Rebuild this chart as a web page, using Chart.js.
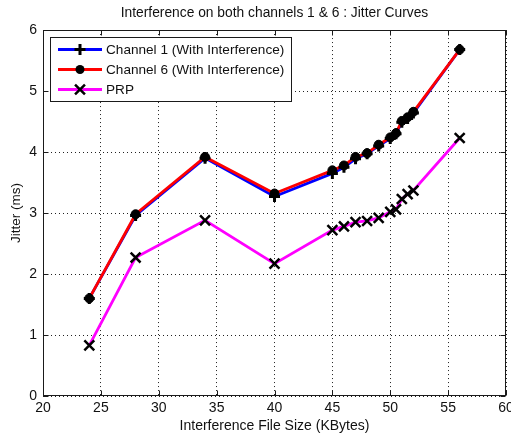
<!DOCTYPE html>
<html><head><meta charset="utf-8">
<script src="https://cdn.jsdelivr.net/npm/chart.js@4"></script>
<style>html,body{margin:0;padding:0;background:#fff;}</style>
</head><body>
<canvas id="c" width="511" height="438"></canvas>
<script>
const chartTitle = 'Interference on both channels 1 & 6 : Jitter Curves';
const xAxisTitle = 'Interference File Size (KBytes)';
const yAxisTitle = 'Jitter (ms)';
const seriesLabels = ['Channel 1 (With Interference)', 'Channel 6 (With Interference)', 'PRP'];
const fileSizes = [24, 28, 34, 40, 45, 46, 47, 48, 49, 50, 50.5, 51, 51.5, 52, 56];
const channel1 = [1.60, 2.96, 3.90, 3.27, 3.65, 3.75, 3.89, 3.97, 4.10, 4.22, 4.30, 4.49, 4.55, 4.64, 5.68];
const channel6 = [1.60, 2.98, 3.92, 3.32, 3.70, 3.78, 3.92, 3.98, 4.12, 4.24, 4.31, 4.51, 4.57, 4.66, 5.68];
const prp      = [0.83, 2.27, 2.88, 2.17, 2.72, 2.78, 2.85, 2.87, 2.92, 3.02, 3.06, 3.23, 3.31, 3.37, 4.23];
const xTickRange = [20, 60, 5];
const yTickRange = [0, 6, 1];

const FONT = '"Liberation Sans", Arial, Helvetica, sans-serif';
const pts = arr => fileSizes.map((x, i) => ({x: x, y: arr[i]}));
const lineColors = ['#0000ff', '#ff0000', '#ff00ff'];
const markerStyles = ['cross', 'circle', 'crossRot'];
const markerRadius = [5.5, 4.5, 7];
const markerWidth = [3, 1, 2.5];
const seriesData = [channel1, channel6, prp];

const datasets = [];
[2, 0, 1].forEach((k, idx) => {
  datasets.push({
    label: seriesLabels[k], data: pts(seriesData[k]), showLine: true,
    borderColor: lineColors[k], borderWidth: 2.8, pointRadius: 0, pointHoverRadius: 0,
    fill: false, tension: 0, order: 10 - idx
  });
});
[2, 0, 1].forEach((k, idx) => {
  datasets.push({
    label: seriesLabels[k] + ' markers', data: pts(seriesData[k]), showLine: false,
    pointStyle: markerStyles[k], pointRadius: markerRadius[k], pointHoverRadius: markerRadius[k],
    pointBorderWidth: markerWidth[k], pointBackgroundColor: '#000', pointBorderColor: '#000',
    order: 3 - idx
  });
});

function drawMarker(ctx, style, x, y, r, w) {
  ctx.save();
  ctx.strokeStyle = '#000'; ctx.fillStyle = '#000'; ctx.lineWidth = w;
  ctx.beginPath();
  if (style === 'cross') {
    ctx.moveTo(x - r, y); ctx.lineTo(x + r, y);
    ctx.moveTo(x, y - r); ctx.lineTo(x, y + r);
    ctx.stroke();
  } else if (style === 'crossRot') {
    const o = r * Math.SQRT1_2;
    ctx.moveTo(x - o, y - o); ctx.lineTo(x + o, y + o);
    ctx.moveTo(x - o, y + o); ctx.lineTo(x + o, y - o);
    ctx.stroke();
  } else {
    ctx.arc(x, y, r, 0, Math.PI * 2); ctx.fill();
  }
  ctx.restore();
}

const framePlugin = {
  id: 'frame',
  afterDatasetsDraw(chart) {
    const {ctx, chartArea: a, scales} = chart;
    const L = Math.round(a.left) + 0.5, R = Math.round(a.right) - 0.5;
    const T = Math.round(a.top) + 0.5, B = Math.round(a.bottom) - 0.5;
    ctx.save();
    ctx.setLineDash([]);
    ctx.strokeStyle = '#1a1a1a'; ctx.lineWidth = 1;
    ctx.strokeRect(L, T, R - L, B - T);
    const tl = 5;
    ctx.beginPath();
    scales.x.ticks.forEach(t => {
      const px = Math.round(scales.x.getPixelForValue(t.value)) + 0.5;
      ctx.moveTo(px, B); ctx.lineTo(px, B - tl);
      ctx.moveTo(px, T); ctx.lineTo(px, T + tl);
    });
    scales.y.ticks.forEach(t => {
      const py = Math.round(scales.y.getPixelForValue(t.value)) + 0.5;
      ctx.moveTo(L, py); ctx.lineTo(L + tl, py);
      ctx.moveTo(R, py); ctx.lineTo(R - tl, py);
    });
    ctx.stroke();
    ctx.restore();
  },
  afterDraw(chart) {
    const ctx = chart.ctx;
    const bx = 50.5, by = 37.5, bw = 241, bh = 64;
    ctx.save();
    ctx.fillStyle = '#fff';
    ctx.fillRect(bx, by, bw, bh);
    ctx.strokeStyle = '#1a1a1a'; ctx.lineWidth = 1; ctx.setLineDash([]);
    ctx.strokeRect(bx, by, bw, bh);
    const rows = [49.5, 69.5, 89.5];
    ctx.font = '13.6px ' + FONT;
    ctx.textBaseline = 'middle'; ctx.textAlign = 'left';
    for (let k = 0; k < 3; k++) {
      const y = rows[k];
      ctx.strokeStyle = lineColors[k]; ctx.lineWidth = 2.8;
      ctx.beginPath(); ctx.moveTo(58, y); ctx.lineTo(102, y); ctx.stroke();
      drawMarker(ctx, markerStyles[k], 80, y, markerRadius[k], markerWidth[k]);
      ctx.fillStyle = '#111';
      ctx.fillText(seriesLabels[k], 106, y + 0.5);
    }
    ctx.restore();
  }
};

const noPad = () => ({left: 0, top: 0, right: 0, bottom: 0});

new Chart(document.getElementById('c'), {
  type: 'scatter',
  data: { datasets },
  options: {
    responsive: false, animation: false, devicePixelRatio: 1,
    layout: { autoPadding: false, padding: { left: 0, right: 5, top: 0, bottom: 0 } },
    plugins: {
      legend: { display: false },
      tooltip: { enabled: false },
      title: {
        display: true, text: chartTitle, fullSize: false, color: '#111',
        font: { family: FONT, size: 13.8, weight: 'normal', lineHeight: 1.2 },
        padding: { top: 5, bottom: 8.5 }
      }
    },
    scales: {
      x: {
        type: 'linear', min: xTickRange[0], max: xTickRange[1],
        ticks: { stepSize: xTickRange[2], color: '#111', padding: 4,
          font: { family: FONT, size: 14, lineHeight: 1.2 } },
        grid: { color: '#222', lineWidth: 1, drawTicks: false },
        border: { display: false, dash: [1, 3] },
        title: { display: true, text: xAxisTitle, color: '#111',
          font: { family: FONT, size: 14, lineHeight: 1.2 }, padding: { top: 0, bottom: 3 } },
        afterFit(s) { s.height = 42; s.paddingLeft = 0; s.paddingRight = 0; s.getPadding = noPad; }
      },
      y: {
        type: 'linear', min: yTickRange[0], max: yTickRange[1],
        ticks: { stepSize: yTickRange[2], color: '#111', padding: 6,
          font: { family: FONT, size: 14, lineHeight: 1.2 } },
        grid: { color: '#222', lineWidth: 1, drawTicks: false },
        border: { display: false, dash: [1, 3] },
        title: { display: true, text: yAxisTitle, color: '#111',
          font: { family: FONT, size: 13.5, lineHeight: 1.2 }, padding: { top: 8, bottom: 0 } },
        afterFit(s) { s.width = 43; s.getPadding = noPad; }
      }
    }
  },
  plugins: [framePlugin]
});
</script>
</body></html>
